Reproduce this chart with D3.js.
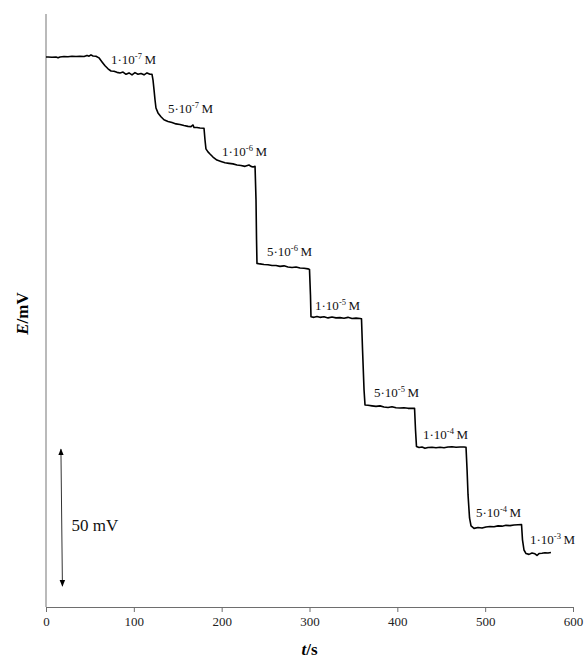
<!DOCTYPE html>
<html>
<head>
<meta charset="utf-8">
<script src="https://cdn.jsdelivr.net/npm/d3@7/dist/d3.min.js"></script>
<style>
  html, body { margin: 0; padding: 0; background: #fff; }
  svg { display: block; }
  text { font-family: "Liberation Serif", "Times New Roman", serif; }
</style>
</head>
<body>
<svg id="chart" width="584" height="658"></svg>
<script>
// Potentiometric response: time (s) and electrode potential E (mV, relative to start)
const timeS = [
  0, 2.3, 6.8, 11.4, 13.7, 15.9, 20.5, 25.0, 29.6, 34.2, 38.7, 43.3, 46.7, 49.0, 51.2, 53.5, 56.9,
  60.3, 63.8, 67.2, 70.6, 74.0, 77.4, 80.8, 84.3, 87.7, 91.1, 94.5, 97.9, 101.3, 104.7, 108.2, 111.6, 115.0, 118.4, 120.7,
  121.8, 123.0, 124.1, 125.2, 127.5, 130.9, 134.3, 138.9, 143.5, 148.0, 152.6, 157.1, 161.7, 165.1, 167.4, 168.5, 171.9, 175.3, 179.9,
  181.0, 182.1, 184.4, 186.7, 190.1, 194.6, 199.2, 203.8, 208.4, 212.9, 217.5, 222.0, 226.6, 231.1, 233.4, 235.7, 238.0,
  239.1, 239.7, 240.2, 243.6, 248.2, 252.8, 257.3, 261.9, 266.4, 271.0, 275.5, 280.1, 284.7, 289.2, 293.8, 298.3, 300.0,
  301.1, 301.7, 305.1, 308.5, 311.9, 316.5, 321.1, 325.6, 330.2, 334.7, 339.3, 343.8, 348.4, 353.0, 357.5, 359.2,
  360.4, 362.1, 363.2, 366.6, 371.2, 375.7, 380.3, 384.8, 389.4, 393.9, 398.5, 403.1, 407.6, 412.2, 416.7, 419.6,
  420.7, 421.8, 424.7, 428.1, 431.5, 434.9, 439.5, 444.0, 448.6, 453.1, 457.7, 462.3, 466.8, 471.4, 475.9, 478.2,
  479.4, 480.5, 482.2, 483.9, 487.3, 491.8, 496.4, 500.9, 505.5, 510.1, 514.6, 519.2, 523.7, 528.3, 532.8, 537.4, 541.4,
  542.5, 544.2, 546.5, 549.9, 553.3, 556.7, 559.0, 561.3, 564.7, 568.1, 571.5, 574.9
];
const potentialMV = [
  -0.3, -0.3, -0.4, -0.3, -0.6, -0.3, -0.1, -0.2, 0.0, -0.1, 0.0, -0.1, 0.3, 0.0, 0.5, 0.1, 0.0,
  -0.6, -2.1, -3.5, -4.6, -5.4, -5.5, -5.9, -6.1, -5.8, -6.6, -6.1, -6.8, -6.0, -6.6, -6.3, -6.8, -6.1, -6.6, -6.6,
  -8.6, -12.3, -15.9, -18.9, -20.7, -22.1, -23.2, -23.8, -24.2, -24.7, -24.9, -25.3, -25.6, -25.7, -25.1, -26.0, -26.0, -26.2, -26.3,
  -30.5, -33.8, -34.9, -35.7, -36.8, -37.9, -38.4, -38.9, -39.1, -39.3, -39.7, -39.9, -40.2, -39.7, -40.2, -40.4, -40.2,
  -52.4, -67.0, -75.6, -75.8, -76.0, -76.1, -76.4, -76.4, -76.7, -76.5, -76.9, -77.1, -76.9, -77.3, -77.4, -77.6, -77.8,
  -87.1, -95.1, -95.3, -95.0, -95.3, -95.1, -95.5, -95.2, -95.5, -95.4, -95.6, -95.3, -95.7, -95.6, -95.7, -95.8,
  -107.2, -121.8, -127.3, -127.4, -127.6, -127.8, -127.6, -128.0, -128.2, -127.9, -128.3, -128.4, -128.3, -128.5, -128.5, -128.5,
  -136.4, -142.4, -142.8, -142.6, -143.1, -142.8, -142.7, -142.9, -142.7, -142.9, -142.6, -142.5, -142.7, -142.6, -142.6, -142.7,
  -151.0, -160.1, -168.5, -171.4, -172.3, -172.0, -172.2, -171.8, -171.6, -171.7, -171.4, -171.5, -171.2, -171.3, -171.1, -171.0, -170.9,
  -176.5, -180.2, -181.5, -181.8, -181.3, -181.6, -182.2, -181.5, -181.4, -181.2, -181.3, -181.1
];

// Concentration annotations (mantissa · 10^exponent M), anchored in data units
const concMantissa = ["1", "5", "1", "5", "1", "5", "1", "5", "1"];
const concExponent = ["-7", "-7", "-6", "-6", "-5", "-5", "-4", "-4", "-3"];
const concLabelT = [74.0, 138.9, 200.4, 251.6, 306.3, 373.4, 429.2, 489.6, 551.0];
const concLabelE = [-2.8, -20.7, -36.4, -72.9, -92.6, -124.3, -139.7, -168.2, -178.0];

// x-axis ticks
const timeTicks = [0, 100, 200, 300, 400, 500, 600];

// Potential scale bar (50 mV)
const scaleBarMV = 50;
const scaleBarTopE = -143.4;
const scaleBarT = [17.0, 18.7];

const svg = d3.select("#chart");
const x = d3.scaleLinear().domain([0, 600]).range([46, 573]);
const y = d3.scaleLinear().domain([-201, 15.4]).range([607, 14]);

// y axis (no ticks)
svg.append("line")
  .attr("x1", x(0)).attr("x2", x(0))
  .attr("y1", y.range()[1]).attr("y2", y.range()[0])
  .attr("stroke", "#8c8c8c").attr("stroke-width", 1.2);

// x axis
const xAxis = d3.axisBottom(x).tickValues(timeTicks).tickSize(5).tickSizeOuter(0).tickPadding(5);
const gx = svg.append("g").attr("transform", `translate(0,${y.range()[0]})`).call(xAxis);
gx.select(".domain").attr("stroke", "#6e6e6e").attr("stroke-width", 1.2);
gx.selectAll(".tick line").attr("stroke", "#6e6e6e");
gx.selectAll(".tick text")
  .attr("font-family", "Liberation Serif, Times New Roman, serif")
  .attr("font-size", 13).attr("fill", "#222");

// trace
const pts = timeS.map((t, i) => [t, potentialMV[i]]);
svg.append("path")
  .datum(pts)
  .attr("fill", "none")
  .attr("stroke", "#000")
  .attr("stroke-width", 1.6)
  .attr("stroke-linejoin", "round")
  .attr("d", d3.line().x(d => x(d[0])).y(d => y(d[1])));

// concentration labels
concMantissa.forEach((m, i) => {
  const t = svg.append("text")
    .attr("x", x(concLabelT[i])).attr("y", y(concLabelE[i]))
    .attr("font-size", 13).attr("fill", "#111");
  t.append("tspan").text(m + "\u00B710");
  t.append("tspan").attr("font-size", 8.5).attr("dy", -5).text(concExponent[i]);
  t.append("tspan").attr("dy", 5).text("\u2009M");
});

// scale bar with arrowheads
const defs = svg.append("defs");
["start", "end"].forEach(k => {
  defs.append("marker")
    .attr("id", "arrow-" + k)
    .attr("viewBox", "0 0 10 10").attr("refX", 9).attr("refY", 5)
    .attr("markerWidth", 7).attr("markerHeight", 7)
    .attr("orient", k === "start" ? "auto-start-reverse" : "auto")
    .attr("markerUnits", "userSpaceOnUse")
    .append("path").attr("d", "M0,1 L10,5 L0,9 Z").attr("fill", "#000");
});
svg.append("line")
  .attr("x1", x(scaleBarT[0])).attr("y1", y(scaleBarTopE))
  .attr("x2", x(scaleBarT[1])).attr("y2", y(scaleBarTopE - scaleBarMV))
  .attr("stroke", "#333").attr("stroke-width", 1)
  .attr("marker-start", "url(#arrow-start)")
  .attr("marker-end", "url(#arrow-end)");
svg.append("text")
  .attr("x", x(scaleBarT[1]) + 9)
  .attr("y", (y(scaleBarTopE) + y(scaleBarTopE - scaleBarMV)) / 2 + 13)
  .attr("font-size", 17).attr("fill", "#111")
  .text(scaleBarMV + " mV");

// axis titles
const xt = svg.append("text")
  .attr("x", (x(0) + x(600)) / 2).attr("y", 655)
  .attr("text-anchor", "middle").attr("font-size", 17).attr("font-weight", "bold");
xt.append("tspan").attr("font-style", "italic").text("t");
xt.append("tspan").text("/s");

const yt = svg.append("text")
  .attr("transform", `translate(28,${(y.range()[0] + y.range()[1]) / 2 + 3}) rotate(-90)`)
  .attr("text-anchor", "middle").attr("font-size", 17).attr("font-weight", "bold");
yt.append("tspan").attr("font-style", "italic").text("E");
yt.append("tspan").text("/mV");
</script>
</body>
</html>
